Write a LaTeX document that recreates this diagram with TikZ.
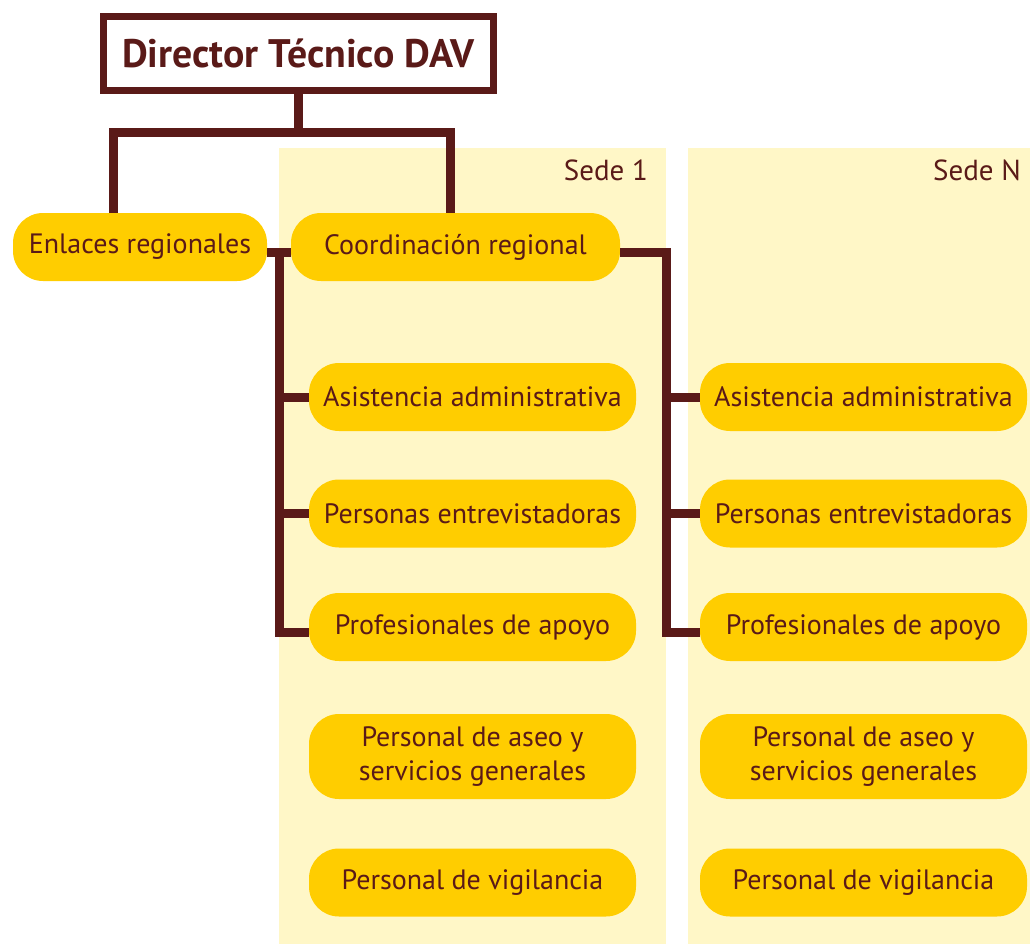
\documentclass[tikz,border=0pt]{standalone}
\usepackage{fontspec}
\setmainfont{PT Sans}
\usetikzlibrary{calc}
\definecolor{darkbrown}{HTML}{5A1A18}
\definecolor{gold}{HTML}{FFCD00}
\definecolor{paleyellow}{HTML}{FFF7C7}

\begin{document}
\begin{tikzpicture}[
  x=0.5pt,y=-0.5pt,
  topbox/.style={draw=darkbrown,line width=3.5pt,fill=white,minimum width=195pt,minimum height=37pt,
    font=\fontsize{19.9}{23}\selectfont\bfseries,text=darkbrown},
  unit/.style={fill=gold,rounded corners=15pt,minimum height=34pt,inner sep=2pt,
    font=\fontsize{14}{17}\selectfont,text=darkbrown,align=center},
  sedebox/.style={unit,minimum width=163.5pt},
  panel/.style={fill=paleyellow},
  sedelbl/.style={anchor=east,font=\fontsize{14.5}{17}\selectfont,text=darkbrown},
  conn/.style={draw=darkbrown,line width=4.5pt},
]
  \useasboundingbox (0,0) rectangle (1030,944);

  % sedes
  \fill[panel] (279,148) rectangle (666,944);
  \fill[panel] (688,148) rectangle (1030,944);
  \node[sedelbl] (lbl1) at (655,170) {Sede 1};
  \node[sedelbl] (lblN) at (1028,170) {Sede N};

  \node[topbox] (dir) at (298.5,53.5) {Director Técnico DAV};
  \node[unit,minimum width=127pt] (enl) at (140,247) {Enlaces regionales};
  \node[unit,minimum width=164.5pt] (coo) at (455.5,247) {Coordinación regional};

  \foreach \col/\xc in {1/472.5,N/863.5} {
    \node[sedebox] (s\col b1) at (\xc,397) {Asistencia administrativa};
    \node[sedebox] (s\col b2) at (\xc,513.5) {Personas entrevistadoras};
    \node[sedebox] (s\col b3) at (\xc,627) {Profesionales de apoyo};
    \node[sedebox,minimum height=42.5pt] (s\col b4) at (\xc,756.5) {Personal de aseo y\\servicios generales};
    \node[sedebox] (s\col b5) at (\xc,882.5) {Personal de vigilancia};
  }

  % top level
  \coordinate (jtop) at (298.5,132);
  \coordinate (jl) at (113,132);
  \coordinate (jr) at (450.5,132);
  \draw[conn] (dir) -- (jtop);
  \draw[conn] (enl.north -| jl) -- (jl) -- (jr) -- (coo.north -| jr);

  % bus sede 1
  \coordinate (bus1) at (279.5,252);
  \draw[conn] ([yshift=-2.5pt]enl.east) -- ([yshift=-2.5pt]coo.west);
  \draw[conn] (bus1) |- ([yshift=-2.5pt]s1b3.west);
  \draw[conn] (bus1 |- s1b1) -- (s1b1.west);
  \draw[conn] (bus1 |- s1b2) -- (s1b2.west);

  % bus sede N
  \coordinate (bus2) at (666,252);
  \draw[conn] ([yshift=-2.5pt]coo.east) -- (bus2) |- ([yshift=-2.5pt]sNb3.west);
  \draw[conn] (bus2 |- sNb1) -- (sNb1.west);
  \draw[conn] (bus2 |- sNb2) -- (sNb2.west);
\end{tikzpicture}
\end{document}
